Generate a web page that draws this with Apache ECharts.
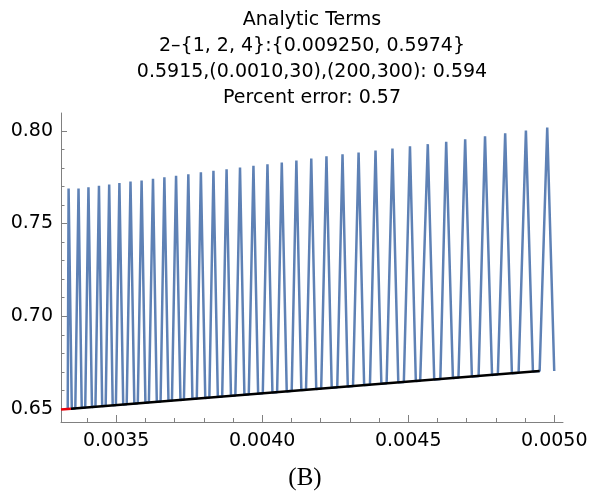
<!DOCTYPE html>
<html>
<head>
<meta charset="utf-8">
<script src="https://cdn.jsdelivr.net/npm/echarts@6/dist/echarts.min.js"></script>
<style>
  html, body { margin: 0; padding: 0; background: #fff; }
  #chart { width: 592px; height: 493px; }
</style>
</head>
<body>
<div id="chart"></div>
<script>
// 标题行
const titleLines = [
  'Analytic Terms',
  '2–{1, 2, 4}:{0.009250, 0.5974}',
  '0.5915,(0.0010,30),(200,300): 0.594',
  'Percent error: 0.57'
]
const panelLabel = '(B)'

// 锯齿曲线：每个齿 = 左底点, 峰值, 右底点
const peakX = [0.003337, 0.003371, 0.003405, 0.003441, 0.003476, 0.003511, 0.003549, 0.003587, 0.003626, 0.003665,
  0.003705, 0.003747, 0.003790, 0.003833, 0.003878, 0.003924, 0.003970, 0.004018, 0.004067, 0.004117,
  0.004168, 0.004220, 0.004275, 0.004330, 0.004388, 0.004446, 0.004506, 0.004567, 0.004630, 0.004695,
  0.004763, 0.004832, 0.004903, 0.004976]
const peakY = [0.7689, 0.7689, 0.7695, 0.7703, 0.7711, 0.7718, 0.7727, 0.7732, 0.7741, 0.7749,
  0.7757, 0.7765, 0.7776, 0.7784, 0.7792, 0.7802, 0.7811, 0.7820, 0.7829, 0.7840,
  0.7851, 0.7862, 0.7874, 0.7883, 0.7894, 0.7905, 0.7917, 0.7928, 0.7941, 0.7954,
  0.7971, 0.7986, 0.8002, 0.8018]
const troughLX = [0.003334, 0.003360, 0.003394, 0.003429, 0.003464, 0.003499, 0.003536, 0.003574, 0.003612, 0.003652,
  0.003691, 0.003732, 0.003776, 0.003819, 0.003863, 0.003908, 0.003954, 0.004002, 0.004051, 0.004101,
  0.004150, 0.004202, 0.004257, 0.004311, 0.004369, 0.004426, 0.004485, 0.004541, 0.004610, 0.004672,
  0.004741, 0.004807, 0.004878, 0.004950]
const troughLY = [0.6501, 0.6504, 0.6508, 0.6513, 0.6517, 0.6522, 0.6526, 0.6531, 0.6536, 0.6541,
  0.6546, 0.6551, 0.6556, 0.6562, 0.6567, 0.6573, 0.6579, 0.6585, 0.6591, 0.6598,
  0.6604, 0.6610, 0.6617, 0.6624, 0.6631, 0.6639, 0.6646, 0.6653, 0.6662, 0.6670,
  0.6678, 0.6687, 0.6696, 0.6705]
const troughRX = [0.003348, 0.003382, 0.003417, 0.003452, 0.003488, 0.003524, 0.003562, 0.003600, 0.003639, 0.003679,
  0.003720, 0.003761, 0.003805, 0.003848, 0.003893, 0.003939, 0.003986, 0.004035, 0.004084, 0.004134,
  0.004185, 0.004238, 0.004293, 0.004349, 0.004408, 0.004466, 0.004526, 0.004589, 0.004653, 0.004718,
  0.004787, 0.004855, 0.004927, 0.005000]
const troughRY = [0.6502, 0.6507, 0.6511, 0.6516, 0.6520, 0.6525, 0.6529, 0.6534, 0.6539, 0.6544,
  0.6549, 0.6555, 0.6560, 0.6566, 0.6571, 0.6577, 0.6583, 0.6589, 0.6595, 0.6602,
  0.6608, 0.6615, 0.6622, 0.6629, 0.6636, 0.6644, 0.6651, 0.6659, 0.6667, 0.6675,
  0.6684, 0.6693, 0.6702, 0.6705]

// 黑色基线与红色起始段
const baseX = [0.003345, 0.004950]
const baseY = [0.6502, 0.6705]
const redX = [0.003311, 0.003345]
const redY = [0.6497, 0.6502]

// 刻度
const xMajor = [0.0035, 0.0040, 0.0045, 0.0050]
const xMinor = [0.0034, 0.0036, 0.0037, 0.0038, 0.0039, 0.0041, 0.0042, 0.0043, 0.0044,
  0.0046, 0.0047, 0.0048, 0.0049]
const yMajor = [0.65, 0.70, 0.75, 0.80]
const yMinor = [0.66, 0.67, 0.68, 0.69, 0.71, 0.72, 0.73, 0.74, 0.76, 0.77, 0.78, 0.79]

const xMin = 0.003311, xMax = 0.00503
const yMin = 0.643, yMax = 0.8096

const sawData = []
peakX.forEach((px, i) => {
  sawData.push([troughLX[i], troughLY[i]])
  sawData.push([px, peakY[i]])
  sawData.push([troughRX[i], troughRY[i]])
})

const axisGrey = '#808080'
const labelFont = 'DejaVu Sans'

function makeX(ticks, major) {
  return {
    type: 'value', min: xMin, max: xMax, position: 'bottom',
    axisLine: { show: major, onZero: false, lineStyle: { color: axisGrey, width: 1 } },
    axisTick: { show: true, inside: true, length: major ? 7 : 4, customValues: ticks,
      lineStyle: { color: axisGrey, width: 1 } },
    axisLabel: major
      ? { show: true, customValues: ticks, margin: 10, color: '#000', fontSize: 19,
          fontFamily: labelFont, formatter: v => v.toFixed(4) }
      : { show: false },
    splitLine: { show: false }
  }
}

function makeY(ticks, major) {
  return {
    type: 'value', min: yMin, max: yMax, position: 'left',
    axisLine: { show: major, onZero: false, lineStyle: { color: axisGrey, width: 1 } },
    axisTick: { show: true, inside: true, length: major ? 6 : 3.5, customValues: ticks,
      lineStyle: { color: axisGrey, width: 1 } },
    axisLabel: major
      ? { show: true, customValues: ticks, margin: 8, color: '#000', fontSize: 19,
          fontFamily: labelFont, formatter: v => v.toFixed(2) }
      : { show: false },
    splitLine: { show: false }
  }
}

const chart = echarts.init(document.getElementById('chart'), null, { renderer: 'canvas' })

chart.setOption({
  backgroundColor: '#fff',
  animation: false,
  grid: { left: 61, right: 29, top: 113, bottom: 71, containLabel: false },
  xAxis: [makeX(xMajor, true), makeX(xMinor, false)],
  yAxis: [makeY(yMajor, true), makeY(yMinor, false)],
  graphic: [
    {
      type: 'text', x: 312, y: 7,
      style: {
        text: titleLines.join('\n'), align: 'center', verticalAlign: 'top',
        fontSize: 19, lineHeight: 26, fontFamily: labelFont, fill: '#000'
      }
    },
    {
      type: 'text', x: 305, y: 466,
      style: {
        text: panelLabel, align: 'center', verticalAlign: 'top',
        fontSize: 25, lineHeight: 25, fontFamily: 'Liberation Serif', fill: '#000'
      }
    }
  ],
  series: [
    {
      type: 'line', data: sawData, showSymbol: false, z: 2,
      lineStyle: { color: '#5E81B5', width: 2.5 }
    },
    {
      type: 'line', data: baseX.map((x, i) => [x, baseY[i]]), showSymbol: false, z: 3,
      lineStyle: { color: '#000', width: 2.5 }
    },
    {
      type: 'line', data: redX.map((x, i) => [x, redY[i]]), showSymbol: false, z: 4,
      lineStyle: { color: '#e8000b', width: 2.5 }
    }
  ]
})
</script>
</body>
</html>
